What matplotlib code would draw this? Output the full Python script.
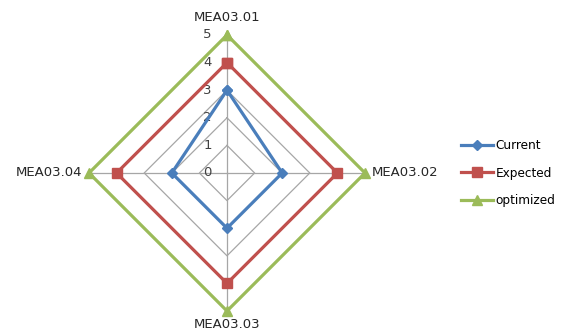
"""
plot.py

Excel-style radar chart of MEA03 scores: Current vs Expected vs optimized.
"""

import numpy as np
import matplotlib
matplotlib.use("Agg")
import matplotlib.pyplot as plt


categories = ["MEA03.01", "MEA03.02", "MEA03.03", "MEA03.04"]
current = [3, 2, 2, 2]
expected = [4, 4, 4, 4]
optimized = [5, 5, 5, 5]
rings = [0, 1, 2, 3, 4, 5]

series = [
    ("Current", current, "#4A7EBB", "D", 5.5),
    ("Expected", expected, "#C0504D", "s", 6.5),
    ("optimized", optimized, "#9BBB59", "^", 7.5),
]


def to_xy(values):
    # first category on top, going clockwise, polygon closed
    angles = np.radians(90 - 90 * np.arange(len(values)))
    vals = np.asarray(values, dtype=float)
    x = vals * np.cos(angles)
    y = vals * np.sin(angles)
    return np.append(x, x[0]), np.append(y, y[0])


def main():
    fig = plt.figure(figsize=(5.65, 3.33), dpi=100)
    px = 27.6  # pixels per unit
    cx, cy = 227, 173  # centre in pixels (from top-left)
    left, right = 27, 427
    ax = fig.add_axes([left / 565, 0, (right - left) / 565, 1])
    ax.set_xlim(-(cx - left) / px, (right - cx) / px)
    ax.set_ylim(-(333 - cy) / px, cy / px)
    ax.axis("off")

    grid_c = "#A6A6A6"
    # rings
    for r in rings[1:]:
        gx, gy = to_xy([r] * len(categories))
        ax.plot(gx, gy, color=grid_c, lw=0.9, zorder=1)
    # spokes
    sx, sy = to_xy([rings[-1]] * len(categories))
    for x, y in zip(sx[:-1], sy[:-1]):
        ax.plot([0, x], [0, y], color=grid_c, lw=0.9, zorder=1)

    # tick labels on the vertical axis
    for r in rings:
        ax.text(-0.55, r, str(r), ha="right", va="center",
                fontsize=9.5, color="#404040")

    for name, vals, color, marker, ms in series:
        x, y = to_xy(vals)
        ax.plot(x, y, color=color, lw=2.3, marker=marker, ms=ms,
                label=name, zorder=3, clip_on=False)

    # category labels
    r_lab = rings[-1]
    fs = 9.5
    ax.text(0, r_lab + 0.4, categories[0], ha="center", va="bottom",
            fontsize=fs, color="#262626")
    ax.text(r_lab + 0.25, 0, categories[1], ha="left", va="center",
            fontsize=fs, color="#262626")
    ax.text(0, -r_lab - 0.25, categories[2], ha="center", va="top",
            fontsize=fs, color="#262626")
    ax.text(-r_lab - 0.25, 0, categories[3], ha="right", va="center",
            fontsize=fs, color="#262626")

    ax.legend(loc="center left", bbox_to_anchor=(429 / 400, 0.48),
              frameon=False, fontsize=8.7, handlelength=2.7,
              handletextpad=0.15, labelspacing=1.2, borderaxespad=0)

    fig.savefig("out.png", dpi=100)


if __name__ == "__main__":
    main()
